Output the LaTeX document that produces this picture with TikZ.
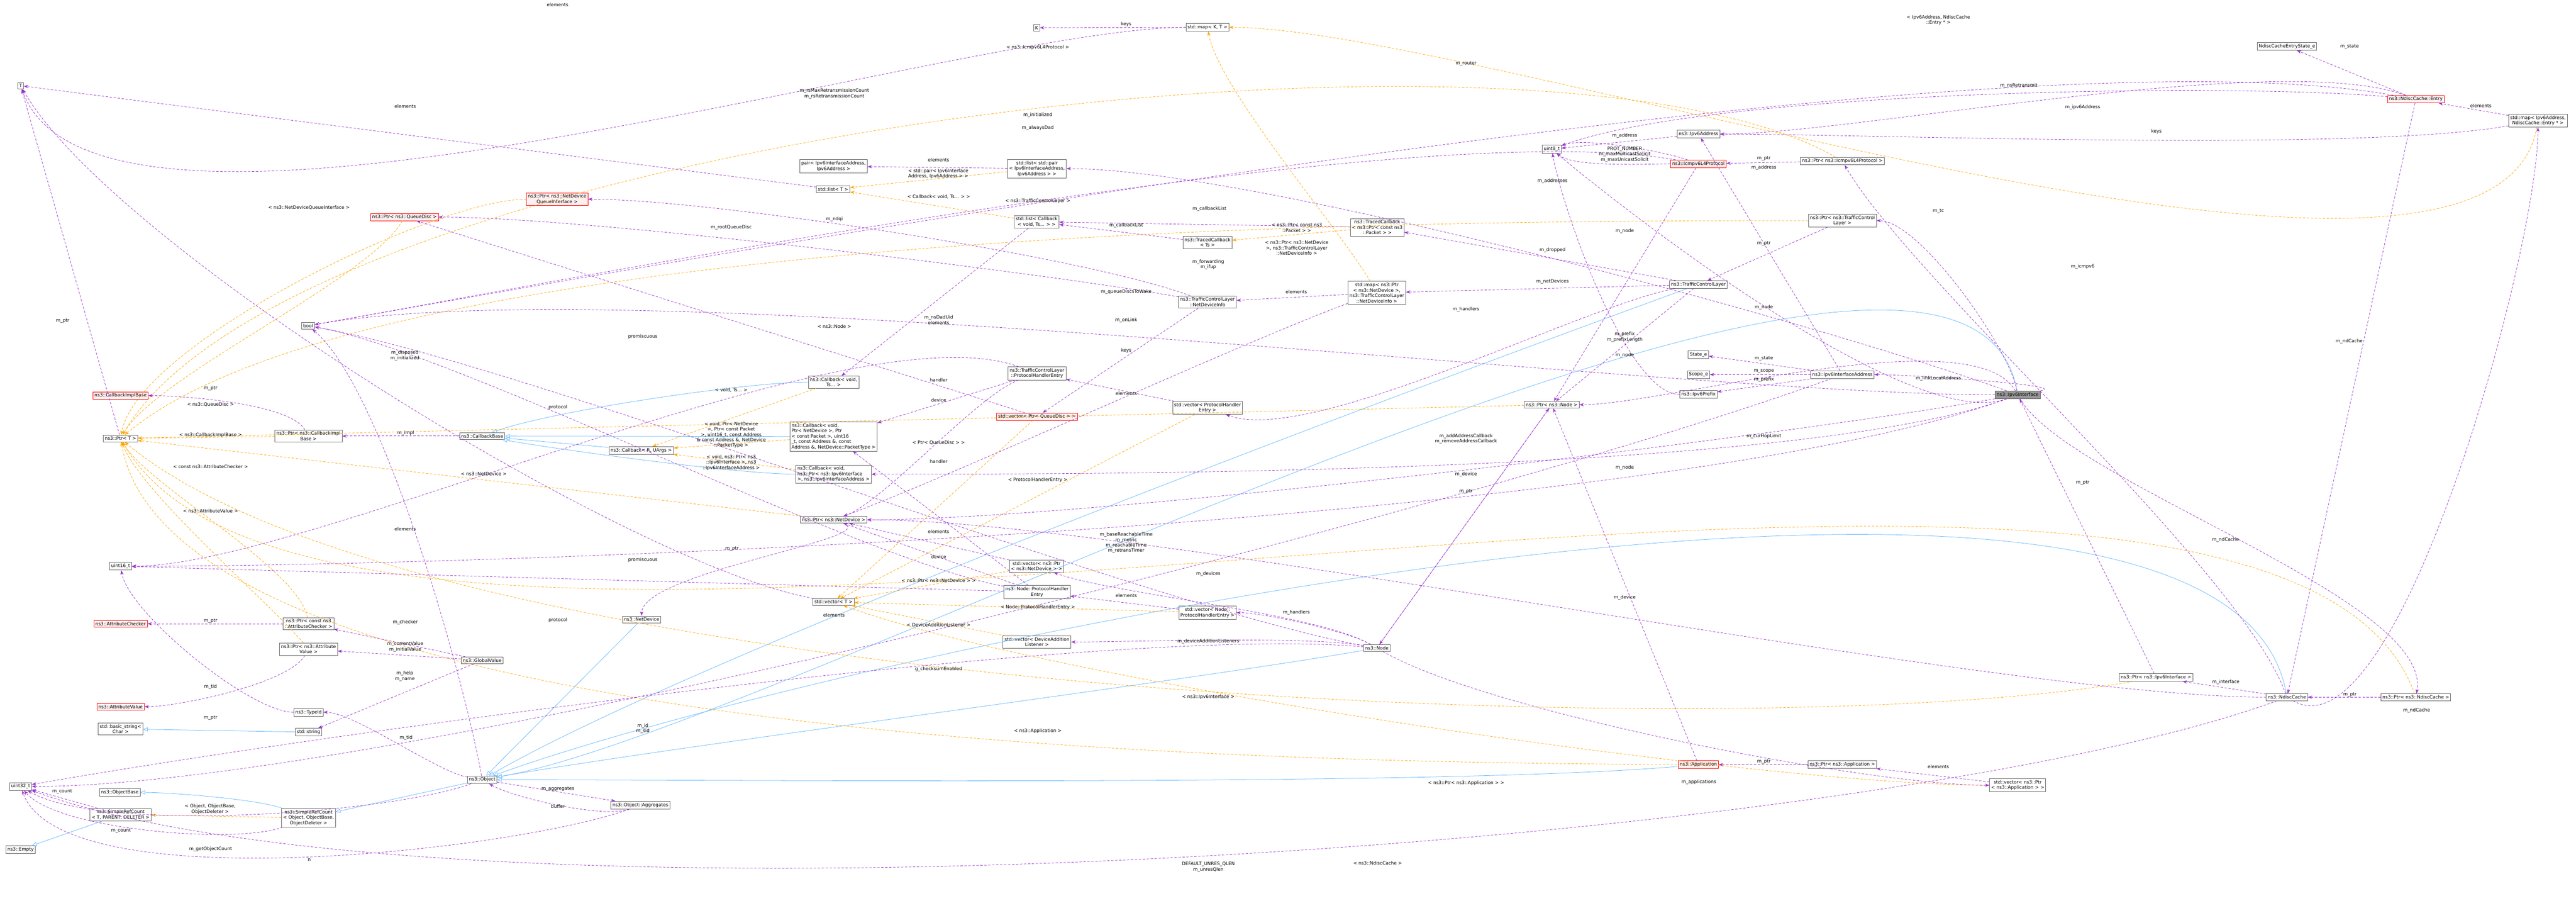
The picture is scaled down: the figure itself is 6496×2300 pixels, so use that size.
\documentclass[tikz,border=0pt]{standalone}
\usepackage{fontspec}
\setmainfont{DejaVu Sans}
\usetikzlibrary{arrows.meta}
\definecolor{purp}{HTML}{9A32CD}
\definecolor{orng}{HTML}{FFA500}
\definecolor{blu}{HTML}{63B8FF}
\definecolor{rfill}{HTML}{FFF0F0}
\begin{document}
\begin{tikzpicture}[x=0.1pt,y=-0.1pt,
  fs/.style={font=\fontsize{1.16}{1.36}\selectfont},
  box/.style={fs,draw=black!60,fill=white,align=center,inner sep=0.4pt,line width=0.1pt},
  rbox/.style={box,draw=red,fill=rfill},
  gbox/.style={box,draw=black!60,fill=black!40},
  lab/.style={fs,align=center,inner sep=0.1pt},
  u/.style={draw=purp,looseness=0.5,line width=0.1pt,dash pattern=on 0.6pt off 0.4pt,-{Stealth[length=1.1pt,width=0.8pt]}},
  tp/.style={draw=orng,looseness=0.5,line width=0.1pt,dash pattern=on 0.6pt off 0.4pt,-{Stealth[length=1.1pt,width=0.8pt]}},
  inh/.style={draw=blu,looseness=0.5,line width=0.1pt,-{Triangle[open,length=1.2pt,width=1pt]}}]
\useasboundingbox (0,0) rectangle (6496,2300);
% nodes
\node[box] (T) at (52,216) {T};
\node[box] (K) at (2614,70) {K};
\node[box] (mapKT) at (3045,69) {std::map< K, T >};
\node[rbox] (pNDQI) at (1405,502) {ns3::Ptr< ns3::NetDevice\\QueueInterface >};
\node[rbox] (pQD) at (1020,547) {ns3::Ptr< ns3::QueueDisc >};
\node[box] (bool) at (777,821) {bool};
\node[rbox] (CIB) at (304,997) {ns3::CallbackImplBase};
\node[box] (PtrT) at (304,1105) {ns3::Ptr< T >};
\node[box] (pCIB) at (778,1099) {ns3::Ptr< ns3::CallbackImpl\\Base >};
\node[box] (CB) at (1216,1099) {ns3::CallbackBase};
\node[box] (CbRU) at (1617,1135) {ns3::Callback< R, UArgs >};
\node[box] (u16) at (304,1427) {uint16\_t};
\node[rbox] (AC) at (304,1572) {ns3::AttributeChecker};
\node[box] (pAC) at (778,1572) {ns3::Ptr< const ns3\\::AttributeChecker >};
\node[box] (pAV) at (778,1636) {ns3::Ptr< ns3::Attribute\\Value >};
\node[box] (GV) at (1216,1664) {ns3::GlobalValue};
\node[rbox] (AV) at (304,1781) {ns3::AttributeValue};
\node[box] (TId) at (778,1795) {ns3::TypeId};
\node[box] (bstr) at (304,1837) {std::basic\_string<\\Char >};
\node[box] (str) at (778,1845) {std::string};
\node[box] (ND) at (1618,1561) {ns3::NetDevice};
\node[box] (u32) at (52,1982) {uint32\_t};
\node[box] (OB) at (302,1997) {ns3::ObjectBase};
\node[box] (SRC) at (304,2053) {ns3::SimpleRefCount\\< T, PARENT, DELETER >};
\node[box] (SRCO) at (778,2061) {ns3::SimpleRefCount\\< Object, ObjectBase,\\ObjectDeleter >};
\node[box] (Empty) at (52,2141) {ns3::Empty};
\node[box] (Obj) at (1216,1965) {ns3::Object};
\node[box] (Agg) at (1615,2029) {ns3::Object::Aggregates};
\node[box] (pair) at (2102,419) {pair< Ipv6InterfaceAddress,\\Ipv6Address >};
\node[box] (listpair) at (2615,425) {std::list< std::pair\\< Ipv6InterfaceAddress,\\Ipv6Address > >};
\node[box] (listT) at (2101,477) {std::list< T >};
\node[box] (listCb) at (2614,559) {std::list< Callback\\< void, Ts... > >};
\node[box] (TCTs) at (3045,611) {ns3::TracedCallback\\< Ts >};
\node[box] (NDI) at (3045,761) {ns3::TrafficControlLayer\\::NetDeviceInfo};
\node[box] (CbvTs) at (2102,963) {ns3::Callback< void,\\Ts... >};
\node[box] (TPHE) at (2615,941) {ns3::TrafficControlLayer\\::ProtocolHandlerEntry};
\node[rbox] (vecQD) at (2615,1050) {std::vector< Ptr< QueueDisc > >};
\node[box] (vecPHE) at (3045,1028) {std::vector< ProtocolHandler\\Entry >};
\node[box,align=left] (CbND) at (2102,1100) {ns3::Callback< void,\\ Ptr< NetDevice >, Ptr\\< const Packet >, uint16\\\_t, const Address \&, const\\ Address \&, NetDevice::PacketType >};
\node[box] (TCP) at (3473,573) {ns3::TracedCallback\\< ns3::Ptr< const ns3\\::Packet > >};
\node[box] (mapND) at (3472,738) {std::map< ns3::Ptr\\< ns3::NetDevice >,\\ns3::TrafficControlLayer\\::NetDeviceInfo >};
\node[box,align=left] (CbIf) at (2102,1195) {ns3::Callback< void,\\ ns3::Ptr< ns3::Ipv6Interface\\>, ns3::Ipv6InterfaceAddress >};
\node[box] (pND) at (2102,1310) {ns3::Ptr< ns3::NetDevice >};
\node[box] (vecND) at (2614,1427) {std::vector< ns3::Ptr\\< ns3::NetDevice > >};
\node[box] (NPHE) at (2615,1492) {ns3::Node::ProtocolHandler\\Entry};
\node[box] (vecT) at (2102,1517) {std::vector< T >};
\node[box] (vecNPHE) at (3045,1544) {std::vector< Node::\\ProtocolHandlerEntry >};
\node[box] (vecDAL) at (2615,1618) {std::vector< DeviceAddition\\Listener >};
\node[box] (Addr) at (4283,338) {ns3::Ipv6Address};
\node[box] (u8) at (3913,376) {uint8\_t};
\node[rbox] (Icmp) at (4283,413) {ns3::Icmpv6L4Protocol};
\node[box] (pIcmp) at (4646,406) {ns3::Ptr< ns3::Icmpv6L4Protocol >};
\node[box] (pTCL) at (4646,556) {ns3::Ptr< ns3::TrafficControl\\Layer >};
\node[box] (TCL) at (4283,717) {ns3::TrafficControlLayer};
\node[box] (State) at (4283,894) {State\_e};
\node[box] (Scope) at (4283,944) {Scope\_e};
\node[box] (IfAddr) at (4646,944) {ns3::Ipv6InterfaceAddress};
\node[box] (Prefix) at (4283,994) {ns3::Ipv6Prefix};
\node[box] (pNode) at (3913,1020) {ns3::Ptr< ns3::Node >};
\node[box] (Node) at (3472,1633) {ns3::Node};
\node[rbox] (App) at (4283,1927) {ns3::Application};
\node[box] (pApp) at (4646,1927) {ns3::Ptr< ns3::Application >};
\node[box] (NCES) at (5767,117) {NdiscCacheEntryState\_e};
\node[rbox] (Entry) at (6092,250) {ns3::NdiscCache::Entry};
\node[box] (mapIA) at (6400,304) {std::map< Ipv6Address,\\NdiscCache::Entry * >};
\node[gbox] (If) at (5088,995) {ns3::Ipv6Interface};
\node[box] (pIf) at (5437,1707) {ns3::Ptr< ns3::Ipv6Interface >};
\node[box] (NC) at (5767,1757) {ns3::NdiscCache};
\node[box] (pNC) at (6092,1757) {ns3::Ptr< ns3::NdiscCache >};
\node[box] (vecApp) at (5088,1979) {std::vector< ns3::Ptr\\< ns3::Application > >};
% inheritance
\draw[inh] (CbRU) -- (CB);
\draw[inh] (CbvTs) to[out=180,in=20] (CB);
\draw[inh] (CbND) to[out=180,in=0] (CB);
\draw[inh] (CbIf) to[out=180,in=-10] (CB);
\draw[inh] (str) -- (bstr);
\draw[inh] (SRC) -- (Empty);
\draw[inh] (SRCO) to[out=160,in=0] (OB);
\draw[inh] (Obj) -- (SRCO);
\draw[inh] (ND) -- (Obj);
\draw[inh] (TCL) to[out=200,in=30] (Obj);
\draw[inh] (Node) to[out=190,in=10] (Obj);
\draw[inh] (App) to[out=185,in=0] (Obj);
\draw[inh] (If) to[out=100,in=10] (Obj);
\draw[inh] (NC) to[out=100,in=20] (Obj);
% templates
\draw[tp] (pNDQI) to[out=180,in=80] (PtrT);
\draw[tp] (pQD) to[out=240,in=60] (PtrT);
\draw[tp] (pCIB) -- (PtrT);
\draw[tp] (pAC) to[out=100,in=-60] (PtrT);
\draw[tp] (pAV) to[out=130,in=-70] (PtrT);
\draw[tp] (pND) -- (PtrT);
\draw[tp] (pNode) -- (PtrT);
\draw[tp] (pApp) to[out=180,in=-80] (PtrT);
\draw[tp] (pIcmp) to[out=150,in=60] (PtrT);
\draw[tp] (pTCL) to[out=180,in=40] (PtrT);
\draw[tp] (pIf) to[out=190,in=-40] (PtrT);
\draw[tp] (pNC) to[out=110,in=-60] (PtrT);
\draw[tp] (listpair) -- (listT);
\draw[tp] (listCb) -- (listT);
\draw[tp] (TCP) -- (TCTs);
\draw[tp] (mapND) to[out=120,in=-80] (mapKT);
\draw[tp] (mapIA) to[out=-100,in=0] (mapKT);
\draw[tp] (vecND) -- (vecT);
\draw[tp] (vecNPHE) -- (vecT);
\draw[tp] (vecDAL) -- (vecT);
\draw[tp] (vecQD) -- (vecT);
\draw[tp] (vecPHE) -- (vecT);
\draw[tp] (vecApp) to[out=180,in=-20] (vecT);
\draw[tp] (CbvTs) -- (CbRU);
\draw[tp] (CbND) -- (CbRU);
\draw[tp] (CbIf) -- (CbRU);
\draw[tp] (SRCO) -- (SRC);
% usage
\draw[u] (mapKT) to[out=180,in=-70] (T);
\draw[u] (mapKT) -- (K);
\draw[u] (listT) -- (T);
\draw[u] (vecT) to[out=170,in=-60] (T);
\draw[u] (PtrT) -- (T);
\draw[u] (pCIB) to[out=120,in=0] (CIB);
\draw[u] (CB) -- (pCIB);
\draw[u] (pAC) -- (AC);
\draw[u] (pAV) to[out=240,in=0] (AV);
\draw[u] (GV) -- (pAC);
\draw[u] (GV) -- (pAV);
\draw[u] (GV) -- (str);
\draw[u] (Obj) to[out=170,in=0] (TId);
\draw[u] (TId) to[out=180,in=-80] (u16);
\draw[u] (Obj) to[out=200,in=-30] (u32);
\draw[u] (SRC) -- (u32);
\draw[u] (SRCO) to[out=200,in=-50] (u32);
\draw[u] (Obj) -- (Agg);
\draw[u] (Agg) to[out=200,in=-30] (Obj);
\draw[u] (Agg) to[out=200,in=-70] (u32);
\draw[u] (Obj) to[out=100,in=-40] (bool);
\draw[u] (Node) to[out=175,in=10] (u32);
\draw[u] (Node) to[out=150,in=-20] (vecND);
\draw[u] (Node) to[out=150,in=0] (vecNPHE);
\draw[u] (Node) to[out=170,in=0] (vecDAL);
\draw[u] (Node) to[out=-30,in=180] (vecApp);
\draw[u] (Node) to[out=170,in=-10] (bool);
\draw[u] (vecND) -- (pND);
\draw[u] (NPHE) -- (pND);
\draw[u] (NPHE) -- (CbND);
\draw[u] (NPHE) to[out=170,in=-10] (bool);
\draw[u] (NPHE) -- (u16);
\draw[u] (vecNPHE) -- (NPHE);
\draw[u] (TPHE) to[out=200,in=20] (pND);
\draw[u] (TPHE) -- (CbND);
\draw[u] (TPHE) to[out=160,in=0] (u16);
\draw[u] (vecPHE) -- (TPHE);
\draw[u] (TCL) to[out=190,in=-20] (vecPHE);
\draw[u] (TCL) -- (mapND);
\draw[u] (TCL) -- (TCP);
\draw[u] (TCL) -- (pNode);
\draw[u] (mapND) -- (NDI);
\draw[u] (mapND) to[out=200,in=20] (pND);
\draw[u] (NDI) to[out=170,in=0] (pQD);
\draw[u] (NDI) to[out=160,in=0] (pNDQI);
\draw[u] (NDI) -- (vecQD);
\draw[u] (vecQD) -- (pQD);
\draw[u] (TCTs) -- (listCb);
\draw[u] (TCP) -- (listCb);
\draw[u] (listCb) -- (CbvTs);
\draw[u] (listpair) -- (pair);
\draw[u] (If) to[out=160,in=0] (listpair);
\draw[u] (If) to[out=10,in=0] (IfAddr);
\draw[u] (IfAddr) -- (State);
\draw[u] (IfAddr) -- (Scope);
\draw[u] (IfAddr) -- (Prefix);
\draw[u] (IfAddr) -- (Addr);
\draw[u] (IfAddr) to[out=200,in=0] (u32);
\draw[u] (Prefix) to[out=180,in=-80] (u8);
\draw[u] (Addr) -- (u8);
\draw[u] (Icmp) to[out=180,in=-40] (u8);
\draw[u] (Icmp) -- (pNode);
\draw[u] (Icmp) to[out=170,in=10] (bool);
\draw[u] (Icmp) to[out=160,in=20] (u8);
\draw[u] (pIcmp) -- (Icmp);
\draw[u] (pTCL) -- (TCL);
\draw[u] (If) to[out=100,in=0] (pTCL);
\draw[u] (If) to[out=120,in=0] (pNode);
\draw[u] (If) to[out=190,in=0] (pND);
\draw[u] (If) to[out=-60,in=80] (pNC);
\draw[u] (If) to[out=180,in=10] (bool);
\draw[u] (If) to[out=200,in=-40] (u8);
\draw[u] (If) to[out=200,in=0] (u16);
\draw[u] (If) to[out=200,in=0] (CbIf);
\draw[u] (pNode) -- (Node);
\draw[u] (Node) -- (pNode);
\draw[u] (pND) to[out=-20,in=90] (ND);
\draw[u] (pApp) -- (App);
\draw[u] (vecApp) -- (pApp);
\draw[u] (App) -- (pNode);
\draw[u] (Entry) -- (NCES);
\draw[u] (Entry) to[out=160,in=0] (Addr);
\draw[u] (Entry) to[out=170,in=10] (bool);
\draw[u] (Entry) to[out=175,in=20] (u8);
\draw[u] (Entry) -- (NC);
\draw[u] (mapIA) -- (Entry);
\draw[u] (mapIA) to[out=190,in=0] (Addr);
\draw[u] (NC) to[out=-30,in=-90] (mapIA);
\draw[u] (NC) -- (pIf);
\draw[u] (NC) to[out=180,in=0] (pND);
\draw[u] (NC) to[out=110,in=-60] (pIcmp);
\draw[u] (NC) to[out=200,in=-20] (u32);
\draw[u] (pNC) -- (NC);
\draw[u] (pIf) -- (If);
% labels
\node[lab] at (1406,12) {elements};
\node[lab] at (1022,268) {elements};
\node[lab] at (779,523) {< ns3::NetDeviceQueueInterface >};
\node[lab] at (158,809) {m\_ptr};
\node[lab] at (1021,896) {m\_disposed\\m\_initialized};
\node[lab] at (1621,848) {promiscuous};
\node[lab] at (531,979) {m\_ptr};
\node[lab] at (531,1020) {< ns3::QueueDisc >};
\node[lab] at (1407,1027) {protocol};
\node[lab] at (531,1096) {< ns3::CallbackImplBase >};
\node[lab] at (1023,1092) {m\_impl};
\node[lab] at (531,1176) {< const ns3::AttributeChecker >};
\node[lab] at (1220,1194) {< ns3::NetDevice >};
\node[lab] at (531,1288) {< ns3::AttributeValue >};
\node[lab] at (1022,1333) {elements};
\node[lab] at (1621,1411) {promiscuous};
\node[lab] at (531,1565) {m\_ptr};
\node[lab] at (1022,1569) {m\_checker};
\node[lab] at (1407,1563) {protocol};
\node[lab] at (1022,1630) {m\_currentValue\\m\_initialValue};
\node[lab] at (1021,1704) {m\_help\\m\_name};
\node[lab] at (531,1731) {m\_tid};
\node[lab] at (531,1809) {m\_ptr};
\node[lab] at (1024,1859) {m\_tid};
\node[lab] at (1621,1836) {m\_id\\m\_sid};
\node[lab] at (157,1995) {m\_count};
\node[lab] at (1407,1988) {m\_aggregates};
\node[lab] at (530,2039) {< Object, ObjectBase,\\ObjectDeleter >};
\node[lab] at (1407,2032) {buffer};
\node[lab] at (305,2093) {m\_count};
\node[lab] at (531,2140) {m\_getObjectCount};
\node[lab] at (780,2167) {n};
\node[lab] at (2840,61) {keys};
\node[lab] at (2617,120) {< ns3::Icmpv6L4Protocol >};
\node[lab] at (2104,236) {m\_rsMaxRetransmissionCount\\m\_rsRetransmissionCount};
\node[lab] at (2617,290) {m\_initialized};
\node[lab] at (2617,323) {m\_alwaysDad};
\node[lab] at (2367,403) {elements};
\node[lab] at (2366,438) {< std::pair< Ipv6Interface\\Address, Ipv6Address > >};
\node[lab] at (2367,496) {< Callback< void, Ts... > >};
\node[lab] at (2617,507) {< ns3::TrafficControlLayer >};
\node[lab] at (3050,527) {m\_callbackList};
\node[lab] at (2104,552) {m\_ndqi};
\node[lab] at (2840,568) {m\_callbackList};
\node[lab] at (3270,574) {< ns3::Ptr< const ns3\\::Packet > >};
\node[lab] at (1844,573) {m\_rootQueueDisc};
\node[lab] at (3270,625) {< ns3::Ptr< ns3::NetDevice\\>, ns3::TrafficControlLayer\\::NetDeviceInfo >};
\node[lab] at (3047,667) {m\_forwarding\\m\_ifup};
\node[lab] at (3269,735) {elements};
\node[lab] at (2840,735) {m\_queueDiscsToWake};
\node[lab] at (2840,807) {m\_onLink};
\node[lab] at (2367,800) {m\_nsDadUid};
\node[lab] at (2367,814) {elements};
\node[lab] at (2104,823) {< ns3::Node >};
\node[lab] at (2840,884) {keys};
\node[lab] at (2367,958) {handler};
\node[lab] at (1844,983) {< void, Ts... >};
\node[lab] at (2840,992) {elements};
\node[lab] at (2367,1008) {device};
\node[lab] at (1844,1096) {< void, Ptr< NetDevice\\>, Ptr< const Packet\\>, uint16\_t, const Address\\\& const Address \&, NetDevice\\::PacketType >};
\node[lab] at (2367,1116) {< Ptr< QueueDisc > >};
\node[lab] at (1844,1166) {< void, ns3::Ptr< ns3\\::Ipv6Interface >, ns3\\::Ipv6InterfaceAddress >};
\node[lab] at (2367,1163) {handler};
\node[lab] at (2617,1209) {< ProtocolHandlerEntry >};
\node[lab] at (2840,1368) {m\_baseReachableTime\\m\_metric\\m\_reachableTime\\m\_retransTimer};
\node[lab] at (2367,1340) {elements};
\node[lab] at (1846,1383) {m\_ptr};
\node[lab] at (2367,1404) {device};
\node[lab] at (3047,1446) {m\_devices};
\node[lab] at (2367,1463) {< ns3::Ptr< ns3::NetDevice > >};
\node[lab] at (2840,1501) {elements};
\node[lab] at (3269,1544) {m\_handlers};
\node[lab] at (2617,1531) {< Node::ProtocolHandlerEntry >};
\node[lab] at (2103,1550) {elements};
\node[lab] at (2367,1575) {< DeviceAdditionListener >};
\node[lab] at (3047,1616) {m\_deviceAdditionListeners};
\node[lab] at (2367,1687) {g\_checksumEnabled};
\node[lab] at (3047,1756) {< ns3::Ipv6Interface >};
\node[lab] at (2617,1842) {< ns3::Application >};
\node[lab] at (3047,2185) {DEFAULT\_UNRES\_QLEN\\m\_unresQlen};
\node[lab] at (4888,51) {< Ipv6Address, NdiscCache\\::Entry * >};
\node[lab] at (3697,160) {m\_router};
\node[lab] at (4097,342) {m\_address};
\node[lab] at (4097,389) {PROT\_NUMBER\\m\_maxMulticastSolicit\\m\_maxUnicastSolicit};
\node[lab] at (4448,400) {m\_ptr};
\node[lab] at (4448,423) {m\_address};
\node[lab] at (3915,456) {m\_addresses};
\node[lab] at (4888,532) {m\_tc};
\node[lab] at (4097,582) {m\_node};
\node[lab] at (4448,614) {m\_ptr};
\node[lab] at (3915,631) {m\_dropped};
\node[lab] at (3915,710) {m\_netDevices};
\node[lab] at (3697,780) {m\_handlers};
\node[lab] at (4448,774) {m\_node};
\node[lab] at (4097,849) {m\_prefix\\m\_prefixLength};
\node[lab] at (4097,896) {m\_node};
\node[lab] at (4448,903) {m\_state};
\node[lab] at (4448,936) {m\_scope};
\node[lab] at (4448,956) {m\_prefix};
\node[lab] at (4888,954) {m\_linkLocalAddress};
\node[lab] at (3697,1106) {m\_addAddressCallback\\m\_removeAddressCallback};
\node[lab] at (4448,1100) {m\_curHopLimit};
\node[lab] at (3697,1195) {m\_device};
\node[lab] at (4097,1179) {m\_node};
\node[lab] at (3697,1239) {m\_ptr};
\node[lab] at (4097,1506) {m\_device};
\node[lab] at (4448,1919) {m\_ptr};
\node[lab] at (4888,1932) {elements};
\node[lab] at (4284,1971) {m\_applications};
\node[lab] at (3697,1974) {< ns3::Ptr< ns3::Application > >};
\node[lab] at (3474,2175) {< ns3::NdiscCache >};
\node[lab] at (5925,117) {m\_state};
\node[lab] at (5091,216) {m\_nsRetransmit};
\node[lab] at (6256,267) {elements};
\node[lab] at (5252,271) {m\_ipv6Address};
\node[lab] at (5438,331) {keys};
\node[lab] at (5252,672) {m\_icmpv6};
\node[lab] at (5924,860) {m\_ndCache};
\node[lab] at (5252,1217) {m\_ptr};
\node[lab] at (5612,1360) {m\_ndCache};
\node[lab] at (5613,1719) {m\_interface};
\node[lab] at (5926,1751) {m\_ptr};
\node[lab] at (6094,1791) {m\_ndCache};
\end{tikzpicture}
\end{document}
